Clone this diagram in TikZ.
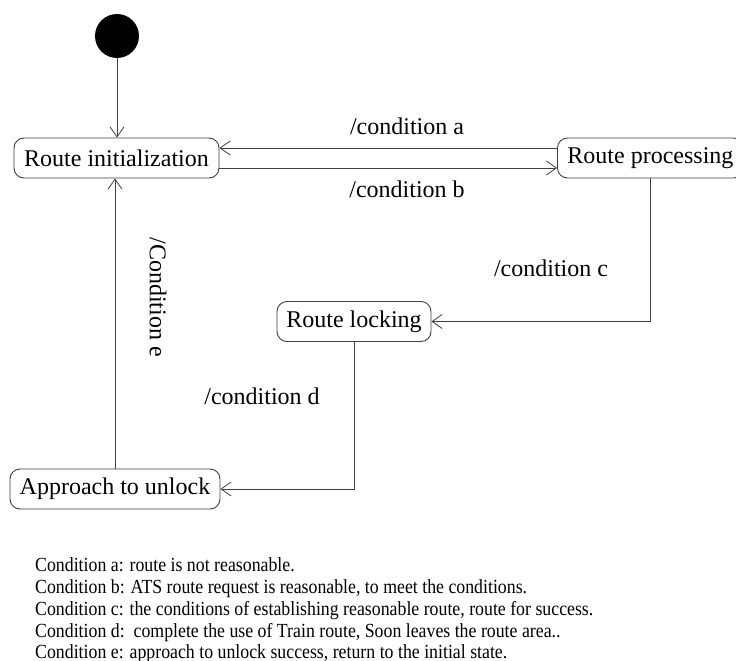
\documentclass[tikz,border=0pt]{standalone}
\usepackage{fontspec}
\setmainfont{Liberation Serif}
\newfontfamily\legendfont[FakeStretch=0.89]{Liberation Serif}
\usetikzlibrary{arrows.meta}

\definecolor{edge}{HTML}{404040}

\tikzset{
  state/.style={draw=edge, line width=0.9pt, rounded corners=10pt, fill=white,
    minimum height=40pt, inner xsep=8pt, inner ysep=4pt,
    font=\fontsize{24}{28}\selectfont},
  arr/.style={draw=edge, line width=0.8pt,
    -{Straight Barb[length=10pt, width=14pt, line width=0.8pt]}},
  lbl/.style={font=\fontsize{24}{28}\selectfont, inner sep=0pt},
  legend/.style={font=\legendfont\fontsize{20}{22}\selectfont, anchor=base west, inner sep=0pt}
}

\begin{document}
\begin{tikzpicture}[x=1pt, y=-1pt]
  \useasboundingbox (0,0) rectangle (736,661);

  % initial pseudo-state
  \node[circle, fill=black, minimum size=44pt, inner sep=0pt] (start) at (117,36) {};

  % states
  \node[state, minimum width=205pt] (init) at (116.5,158) {Route initialization};
  \node[state, minimum width=186pt, anchor=west] (proc) at (557,158) {Route processing};
  \node[state, minimum width=154pt] (lock) at (354,321.5) {Route locking};
  \node[state, minimum width=210pt] (appr) at (115,489) {Approach to unlock};

  % transitions
  \draw[arr] (start) -- (init.north -| start);
  \draw[arr] ([yshift=10pt]proc.west) -- ([yshift=10pt]init.east);
  \draw[arr] ([yshift=-10pt]init.east) -- ([yshift=-10pt]proc.west);
  \draw[arr] (proc.south) |- (lock.east);
  \draw[arr] (lock.south) |- (appr.east);
  \draw[arr] (appr.north) -- (appr.north |- init.south);

  % transition labels
  \node[lbl] (la) at (407,126) {/condition a};
  \node[lbl] (lb) at (407,189) {/condition b};
  \node[lbl] (lc) at (551,268) {/condition c};
  \node[lbl] (ld) at (262,396) {/condition d};
  \node[lbl, rotate=-90] (le) at (158,297) {/Condition e};

  % legend
  \node[legend] (c1) at (35,571) {Condition a: route is not reasonable.};
  \node[legend] (c2) at (35,593) {Condition b: ATS route request is reasonable, to meet the conditions.};
  \node[legend] (c3) at (35,615) {Condition c: the conditions of establishing reasonable route, route for success.};
  \node[legend] (c4) at (35,637) {Condition d:\ \ complete the use of Train route, Soon leaves the route area..};
  \node[legend] (c5) at (35,658) {Condition e: approach to unlock success, return to the initial state.};
\end{tikzpicture}
\end{document}
